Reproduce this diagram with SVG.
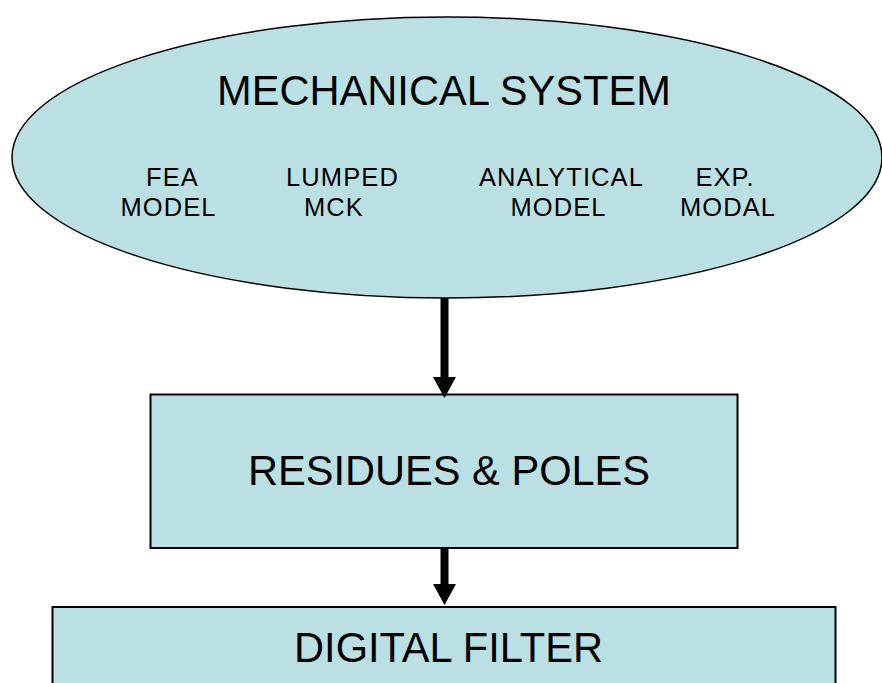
<svg xmlns="http://www.w3.org/2000/svg" width="882" height="683" viewBox="0 0 882 683">
<style>
.shape{fill:#BBE0E3;stroke:#000;}
.big{font-family:"Liberation Sans",Arial,sans-serif;font-size:41.6px;fill:#000;text-anchor:middle;}
.small{font-family:"Liberation Sans",Arial,sans-serif;font-size:25.5px;letter-spacing:1.1px;fill:#000;text-anchor:middle;}
.conn{stroke:#000;stroke-width:8;fill:none;}
</style>
<defs>
<marker id="ah" viewBox="0 0 21 23" refX="0" refY="11.5" markerWidth="21" markerHeight="23" markerUnits="userSpaceOnUse" orient="auto">
<path d="M0,0 L21,11.5 L0,23 z" fill="#000"/>
</marker>
</defs>
<rect width="882" height="683" fill="#fff"/>
<g id="mechanical-system">
<ellipse class="shape" cx="447" cy="157.5" rx="435" ry="140.5" stroke-width="1.5"/>
<text class="big" x="444" y="104.5">MECHANICAL SYSTEM</text>
<text class="small" x="172.5" y="186">FEA</text>
<text class="small" x="168.5" y="216">MODEL</text>
<text class="small" x="342.5" y="186">LUMPED</text>
<text class="small" x="334" y="216">MCK</text>
<text class="small" x="561.5" y="186">ANALYTICAL</text>
<text class="small" x="558.5" y="216">MODEL</text>
<text class="small" x="725" y="186">EXP.</text>
<text class="small" x="728" y="216">MODAL</text>
</g>
<g id="residues-poles">
<rect class="shape" x="150.5" y="394.5" width="587" height="153.5" stroke-width="2"/>
<text class="big" x="449" y="485">RESIDUES &amp; POLES</text>
</g>
<g id="digital-filter">
<rect class="shape" x="52.5" y="607" width="783" height="100" stroke-width="2"/>
<text class="big" x="448.5" y="662">DIGITAL FILTER</text>
</g>
<g id="connectors">
<line class="conn" x1="444.5" y1="298" x2="444.5" y2="377" marker-end="url(#ah)"/>
<line class="conn" x1="444.5" y1="548" x2="444.5" y2="584" marker-end="url(#ah)"/>
</g>
</svg>
